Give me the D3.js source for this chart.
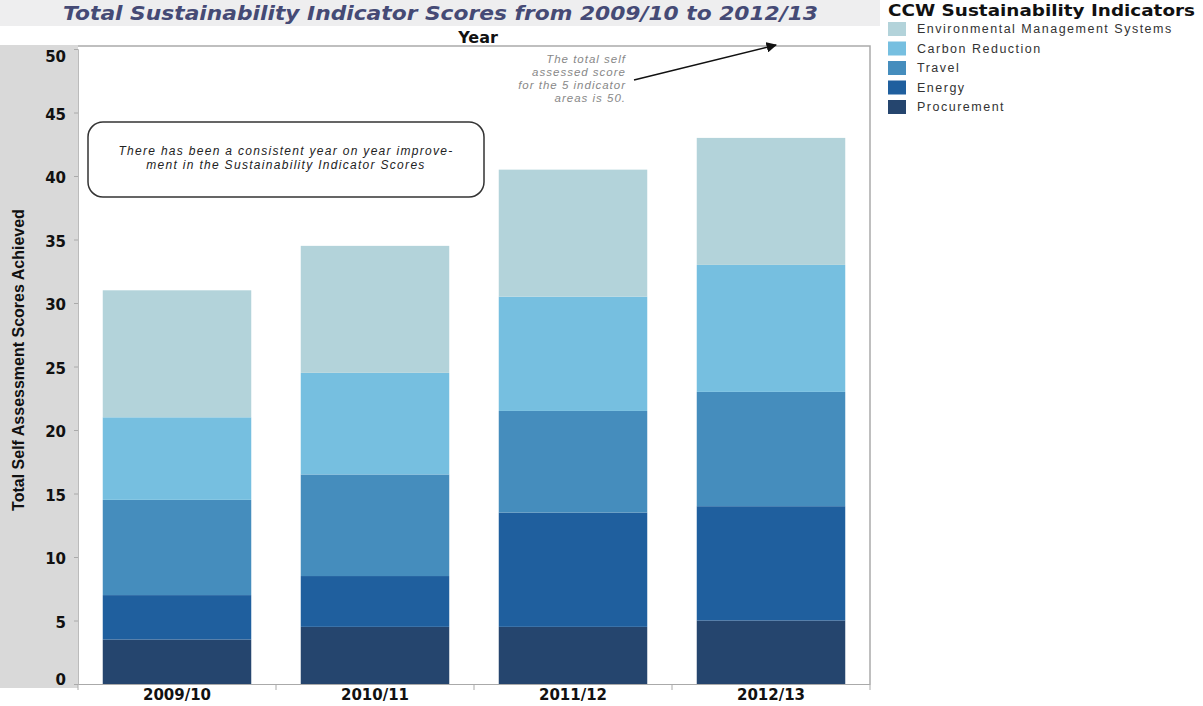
<!DOCTYPE html>
<html>
<head>
<meta charset="utf-8">
<script src="https://cdn.jsdelivr.net/npm/d3@7"></script>
<style>
  body { margin: 0; background: #fff; }
  svg { display: block; font-family: "Liberation Sans", Arial, sans-serif; }
</style>
</head>
<body>
<div id="container"></div>
<script>
/* DATA */
const years = ["2009/10", "2010/11", "2011/12", "2012/13"]
const indicators = ["Procurement", "Energy", "Travel", "Carbon Reduction", "Environmental Management Systems"]
const procurement = [3.5, 4.5, 4.5, 5]
const energy = [3.5, 4, 9, 9]
const travel = [7.5, 8, 8, 9]
const carbonReduction = [6.5, 8, 9, 10]
const ems = [10, 10, 10, 10]
const yTicks = [0, 5, 10, 15, 20, 25, 30, 35, 40, 45, 50]
const colors = ["#25456e", "#1f5f9e", "#458dbd", "#76bfe0", "#b3d3da"]

const width = 1203, height = 706
const margin = { top: 48, bottom: 684, left: 78, right: 870 }

// build rows for the stack
const rows = years.map((y, i) => ({
  year: y,
  "Procurement": procurement[i],
  "Energy": energy[i],
  "Travel": travel[i],
  "Carbon Reduction": carbonReduction[i],
  "Environmental Management Systems": ems[i]
}))
const series = d3.stack().keys(indicators)(rows)

// SCALES
const xScale = d3.scaleBand()
  .domain(years)
  .range([margin.left, margin.right])
  .paddingInner(0.25)
  .paddingOuter(0.125)

const yScale = d3.scaleLinear()
  .domain([0, 50])
  .range([margin.bottom, margin.top + 1])

const colorScale = d3.scaleOrdinal().domain(indicators).range(colors)

const svg = d3.select("#container")
  .append("svg")
  .attr("width", width)
  .attr("height", height)

// title band
svg.append("rect")
  .attr("x", 0).attr("y", 0)
  .attr("width", 880).attr("height", 26)
  .attr("fill", "#eeeeef")
svg.append("text")
  .attr("x", 63).attr("y", 20)
  .attr("font-size", 19)
  .attr("font-weight", "bold")
  .attr("font-style", "italic")
  .attr("font-family", "'DejaVu Sans', sans-serif")
  .attr("fill", "#454a75")
  .attr("textLength", 755)
  .attr("lengthAdjust", "spacingAndGlyphs")
  .text("Total Sustainability Indicator Scores from 2009/10 to 2012/13")

svg.append("text")
  .attr("x", 478).attr("y", 43)
  .attr("text-anchor", "middle")
  .attr("font-size", 16)
  .attr("font-weight", "bold")
  .attr("font-family", "'DejaVu Sans', sans-serif")
  .attr("fill", "#111")
  .text("Year")

// grey y-axis panel
svg.append("rect")
  .attr("x", 0).attr("y", 45)
  .attr("width", margin.left).attr("height", margin.bottom - 45 + 4)
  .attr("fill", "#d9d9d9")

// plot frame
svg.append("path")
  .attr("d", `M${margin.left},${margin.top - 2}H${margin.right}V${margin.bottom}`)
  .attr("fill", "none")
  .attr("stroke", "#aaa")
  .attr("stroke-width", 1.5)

// BARS
svg.append("g")
  .selectAll("g")
  .data(series)
  .join("g")
  .attr("fill", d => colorScale(d.key))
  .selectAll("rect")
  .data(d => d)
  .join("rect")
  .attr("x", d => xScale(d.data.year))
  .attr("width", xScale.bandwidth())
  .attr("y", d => yScale(d[1]))
  .attr("height", d => yScale(d[0]) - yScale(d[1]))

// AXES
const yAxis = d3.axisLeft(yScale)
  .tickValues(yTicks)
  .tickSize(4)
  .tickPadding(8)
const yAxisGroup = svg.append("g")
  .attr("transform", `translate(${margin.left}, 0)`)
  .call(yAxis)
yAxisGroup.select(".domain").attr("stroke", "#bbb")
yAxisGroup.selectAll(".tick line").attr("stroke", "#aaa")
yAxisGroup.selectAll(".tick text")
  .attr("font-size", 15)
  .attr("font-weight", "bold")
  .attr("font-family", "'DejaVu Sans', sans-serif")
  .attr("fill", "#111")
  .attr("dy", (d) => d === 50 ? "0.8em" : d === 0 ? "0em" : "0.45em")

svg.append("text")
  .attr("transform", `translate(${24}, ${360}) rotate(-90)`)
  .attr("text-anchor", "middle")
  .attr("font-size", 16)
  .attr("font-weight", "bold")
  .attr("font-family", "'Liberation Sans Narrow', 'Arial Narrow', sans-serif")
  .attr("fill", "#111")
  .text("Total Self Assessment Scores Achieved")

const xAxis = d3.axisBottom(xScale).tickSize(0).tickPadding(5)
const xAxisGroup = svg.append("g")
  .attr("transform", `translate(0, ${margin.bottom})`)
  .call(xAxis)
xAxisGroup.select(".domain").attr("stroke", "#aaa")
xAxisGroup.selectAll(".tick text")
  .attr("font-size", 15)
  .attr("font-weight", "bold")
  .attr("font-family", "'DejaVu Sans', sans-serif")
  .attr("fill", "#111")

// boundary ticks between bands
const boundaries = years.map(y => xScale(y) - xScale.step() * xScale.paddingOuter())
boundaries.push(margin.right)
svg.append("g")
  .selectAll("line")
  .data(boundaries)
  .join("line")
  .attr("x1", d => d).attr("x2", d => d)
  .attr("y1", margin.bottom).attr("y2", margin.bottom + 6)
  .attr("stroke", "#aaa")

// ANNOTATIONS
const note = ["The total self", "assessed score", "for the 5 indicator", "areas is 50."]
svg.append("text")
  .attr("x", 626).attr("y", 63)
  .attr("text-anchor", "end")
  .attr("font-size", 11.5)
  .attr("letter-spacing", 1.0)
  .attr("font-style", "italic")
  .attr("fill", "#888")
  .selectAll("tspan")
  .data(note)
  .join("tspan")
  .attr("x", 626)
  .attr("dy", (d, i) => i === 0 ? 0 : 13)
  .text(d => d)

svg.append("defs").append("marker")
  .attr("id", "arrow")
  .attr("viewBox", "0 0 10 10")
  .attr("refX", 9).attr("refY", 5)
  .attr("markerWidth", 7).attr("markerHeight", 7)
  .attr("orient", "auto")
  .append("path")
  .attr("d", "M0,0L10,5L0,10z")
  .attr("fill", "#111")
svg.append("line")
  .attr("x1", 634).attr("y1", 80)
  .attr("x2", 776).attr("y2", 45)
  .attr("stroke", "#111")
  .attr("stroke-width", 1.5)
  .attr("marker-end", "url(#arrow)")

svg.append("rect")
  .attr("x", 88).attr("y", 122)
  .attr("width", 396).attr("height", 75)
  .attr("rx", 15)
  .attr("fill", "#fff")
  .attr("stroke", "#333")
  .attr("stroke-width", 1.5)
const boxText = ["There has been a consistent year on year improve-", "ment in the Sustainability Indicator Scores"]
svg.append("text")
  .attr("text-anchor", "middle")
  .attr("font-size", 12)
  .attr("letter-spacing", 1.3)
  .attr("font-style", "italic")
  .attr("fill", "#222")
  .selectAll("tspan")
  .data(boxText)
  .join("tspan")
  .attr("x", 286)
  .attr("y", (d, i) => 155 + i * 14)
  .text(d => d)

// LEGEND
svg.append("text")
  .attr("x", 888).attr("y", 16)
  .attr("font-size", 15)
  .attr("font-weight", "bold")
  .attr("font-family", "'DejaVu Sans', sans-serif")
  .attr("fill", "#111")
  .attr("textLength", 307)
  .attr("lengthAdjust", "spacingAndGlyphs")
  .text("CCW Sustainability Indicators")

const legendOrder = indicators.slice().reverse()
const legend = svg.append("g")
  .selectAll("g")
  .data(legendOrder)
  .join("g")
  .attr("transform", (d, i) => `translate(888, ${22 + i * 19.5})`)
legend.append("rect")
  .attr("width", 18).attr("height", 14)
  .attr("fill", d => colorScale(d))
legend.append("text")
  .attr("x", 29).attr("y", 11)
  .attr("font-size", 12.5)
  .attr("letter-spacing", 1.5)
  .attr("fill", "#333")
  .text(d => d)
</script>
</body>
</html>
